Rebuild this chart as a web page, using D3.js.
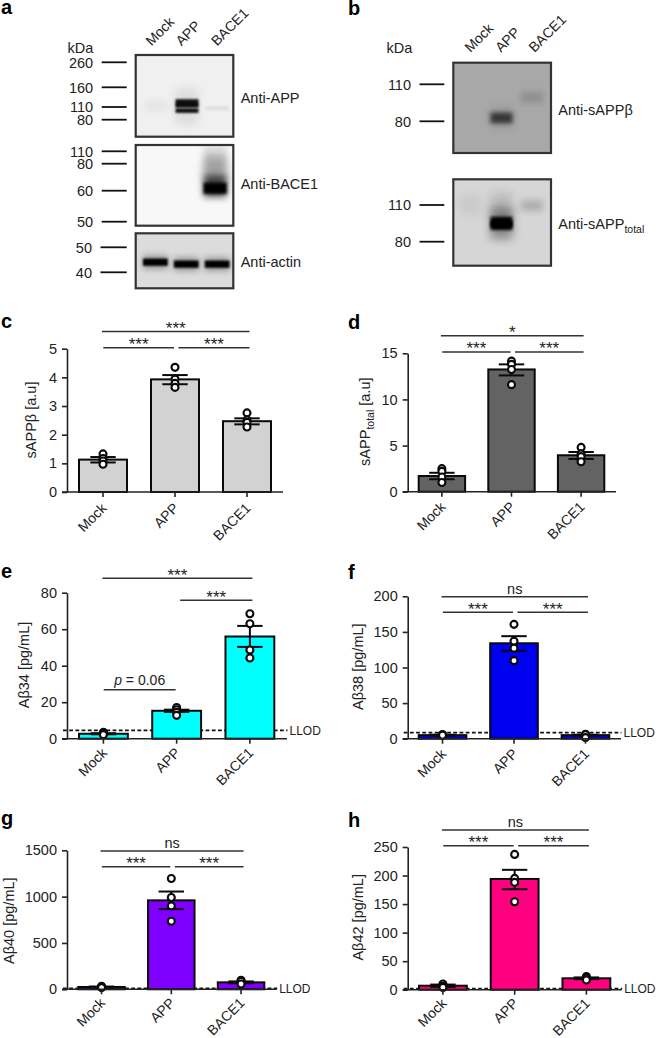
<!DOCTYPE html>
<html lang="en">
	<head>
		<meta charset="utf-8">
		<title>APP / BACE1 blots and bar charts</title>
		<script type="text/javascript" src="https://cdn.jsdelivr.net/npm/d3@7"></script>
		<style type="text/css">
			html, body { margin: 0; padding: 0; background: #fff; }
			svg { display: block; }
			text { font-family: "Liberation Sans", Arial, sans-serif; fill: #222; }
			.axis text { font-size: 14.5px; fill: #222; }
			.axis line, .axis path { stroke: #222; stroke-width: 1.6; }
		</style>
	</head>
	<body>
		<script type="text/javascript">

			var w = 657;
			var h = 1038;

			// values
			var lanes = ["Mock", "APP", "BACE1"];

			var sAPPbTicks = [0, 1, 2, 3, 4, 5];
			var sAPPbMeans = [1.13, 3.93, 2.47];
			var sAPPbHigh = [1.22, 4.08, 2.57];
			var sAPPbLow = [1.03, 3.76, 2.36];
			var sAPPbPoints = [[1.33, 1.17, 1.08, 0.97], [4.35, 3.94, 3.79, 3.65], [2.76, 2.51, 2.43, 2.27]];
			var sAPPbSig = [[0, 2, "***", 5.6], [0, 1, "***", 5.03], [1, 2, "***", 5.03]];

			var sAPPtTicks = [0, 5, 10, 15];
			var sAPPtMeans = [1.7, 13.25, 3.95];
			var sAPPtHigh = [2.05, 13.8, 4.3];
			var sAPPtLow = [1.35, 12.6, 3.55];
			var sAPPtPoints = [[2.5, 2.2, 1.6, 1.0], [14.15, 13.8, 13.25, 11.6], [4.8, 4.1, 3.8, 3.25]];
			var sAPPtSig = [[0, 2, "*", 16.9], [0, 1, "***", 15.15], [1, 2, "***", 15.15]];

			var ab34Ticks = [0, 20, 40, 60, 80];
			var ab34Means = [2.7, 15.3, 56];
			var ab34High = [3.0, 15.9, 61.8];
			var ab34Low = [2.4, 14.7, 50.3];
			var ab34Points = [[3.5, 3.0, 2.6, 2.2], [17.1, 15.9, 14.4, 12.8], [68.5, 63, 48.6, 44.2]];
			var ab34Sig = [[0, 2, "***", 87.9], [1, 2, "***", 75.9], [0, 1, "p", 26.8]];
			var ab34Llod = 4.6;

			var ab38Ticks = [0, 50, 100, 150, 200];
			var ab38Means = [5, 134, 5];
			var ab38High = [5.6, 144, 5.6];
			var ab38Low = [4.4, 123.5, 4.4];
			var ab38Points = [[5.8, 5.2, 4.8], [160.6, 137, 127, 109.6], [6.2, 5.5, 1.5]];
			var ab38Sig = [[0, 2, "ns", 199.5], [0, 1, "***", 177.5], [1, 2, "***", 177.5]];
			var ab38Llod = 8.4;

			var ab40Ticks = [0, 500, 1000, 1500];
			var ab40Means = [25, 960, 75];
			var ab40High = [30, 1055, 85];
			var ab40Low = [20, 865, 65];
			var ab40Points = [[32, 25, 18], [1195, 990, 900, 735], [97, 85, 58]];
			var ab40Sig = [[0, 2, "ns", 1493], [0, 1, "***", 1323], [1, 2, "***", 1323]];
			var ab40Llod = 11;

			var ab42Ticks = [0, 50, 100, 150, 200, 250];
			var ab42Means = [7, 194, 20];
			var ab42High = [9, 210, 21.5];
			var ab42Low = [5, 176, 18.5];
			var ab42Points = [[10, 6, 4], [237, 195, 188, 154], [23, 20, 17]];
			var ab42Sig = [[0, 2, "ns", 280], [0, 1, "***", 252], [1, 2, "***", 252]];
			var ab42Llod = 2;

			// blots: marker sizes, and bands as [lane, kDa top, kDa bottom, density]
			var appKda = [260, 160, 110, 80];
			var appBands = [
				[0, 128, 98, 0.04], [2, 112, 102, 0.07],
				[1, 158, 68, 0.08], [1, 130, 108.5, 0.9], [1, 107, 96, 0.92], [1, 122, 112, 0.5]
			];
			var baceKda = [110, 80, 60, 50];
			var baceBands = [
				[2, 123, 89, 0.13], [2, 100, 75, 0.2], [2, 84, 68, 0.25], [2, 72, 58, 0.7], [2, 66, 59, 1]
			];
			var actinKda = [50, 40];
			var actinBands = [
				[0, 46.8, 41.3, 0.3], [1, 46, 40.5, 0.3], [2, 46, 40.5, 0.3],
				[0, 45.5, 42.6, 1], [1, 44.7, 41.8, 1], [2, 44.7, 41.8, 1]
			];
			var sappbKda = [110, 80];
			var sappbBands = [[1, 90, 76, 0.15], [1, 87, 78.5, 0.62], [2, 104, 95, 0.15]];
			var sapptKda = [110, 80];
			var sapptBands = [
				[0, 118, 102, 0.05], [1, 120, 100, 0.12], [1, 108, 82, 0.35], [1, 100.5, 89.5, 1], [1, 97, 92, 1],
				[2, 114, 105, 0.18]
			];

			var svg = d3.select("body")
				.append("svg")
				.attr("width", w)
				.attr("height", h);

			var defs = svg.append("defs");
			var filterCount = 0;

			function blurFilter(sd) {
				var id = "blur" + (filterCount++);
				defs.append("filter")
					.attr("id", id)
					.attr("filterUnits", "userSpaceOnUse")
					.attr("x", 0).attr("y", 0)
					.attr("width", w).attr("height", h)
					.append("feGaussianBlur")
					.attr("stdDeviation", sd);
				return id;
			}

			function drawBlot(b) {
				var g = svg.append("g");
				var laneScale = d3.scaleBand().domain([0, 1, 2]).range(b.laneRange).paddingInner(b.lanePad);
				var kdaScale = d3.scaleLinear().domain(b.kda).range(b.kdaY);

				var clip = "clip" + (filterCount++);
				defs.append("clipPath").attr("id", clip).append("rect")
					.attr("x", b.x0).attr("y", b.y0)
					.attr("width", b.x1 - b.x0).attr("height", b.y1 - b.y0);

				var inner = g.append("g").attr("clip-path", "url(#" + clip + ")");
				inner.append("rect")
					.attr("x", b.x0).attr("y", b.y0)
					.attr("width", b.x1 - b.x0).attr("height", b.y1 - b.y0)
					.attr("fill", b.bg);

				inner.selectAll("rect.band")
					.data(b.bands)
					.enter()
					.append("rect")
					.attr("class", "band")
					.attr("x", function(d) { return laneScale(d[0]); })
					.attr("width", laneScale.bandwidth())
					.attr("y", function(d) { return kdaScale(d[1]); })
					.attr("height", function(d) { return kdaScale(d[2]) - kdaScale(d[1]); })
					.attr("fill", "#000")
					.attr("opacity", function(d) { return d[3]; })
					.attr("filter", function(d) {
						var hh = kdaScale(d[2]) - kdaScale(d[1]);
						var sd = Math.max(1, Math.min(5, hh * 0.3 * (1 - 0.6 * d[3])));
						return "url(#" + blurFilter(sd) + ")";
					});

				g.append("rect")
					.attr("x", b.x0).attr("y", b.y0)
					.attr("width", b.x1 - b.x0).attr("height", b.y1 - b.y0)
					.attr("fill", "none")
					.attr("stroke", "#333")
					.attr("stroke-width", 2.2);

				// size markers
				g.selectAll("line.marker")
					.data(b.kda)
					.enter()
					.append("line")
					.attr("x1", b.markX[0])
					.attr("x2", b.markX[1])
					.attr("y1", function(d) { return kdaScale(d); })
					.attr("y2", function(d) { return kdaScale(d); })
					.attr("stroke", "#111")
					.attr("stroke-width", 1.8);

				g.selectAll("text.kda")
					.data(b.kda)
					.enter()
					.append("text")
					.attr("x", b.markX[0] - 8.5)
					.attr("y", function(d) { return kdaScale(d); })
					.attr("dy", "0.36em")
					.attr("text-anchor", "end")
					.attr("font-size", "14.5px")
					.text(function(d) { return d; });

				var label = g.append("text")
					.attr("x", b.labelX)
					.attr("y", b.labelY)
					.attr("dy", "0.36em")
					.attr("font-size", "14.5px")
					.text(b.label);
				if (b.sub) {
					label.append("tspan").attr("dy", "4px").attr("font-size", "10.5px").text(b.sub);
				}
			}

			function laneLabels(xs, y) {
				svg.selectAll(null)
					.data(lanes)
					.enter()
					.append("text")
					.attr("transform", function(d, i) { return "translate(" + xs[i] + "," + y + ") rotate(-45)"; })
					.attr("font-size", "14px")
					.text(function(d) { return d; });
			}

			drawBlot({ x0: 135.7, x1: 233.3, y0: 55, y1: 136.7, bg: "#f0f0f0", kda: appKda, kdaY: [62.3, 87.3, 107, 119.7],
				bands: appBands, laneRange: [145, 229], lanePad: 0.25, markX: [101.7, 126.7],
				label: "Anti-APP", labelX: 240.7, labelY: 97.7 });
			drawBlot({ x0: 135.7, x1: 233.3, y0: 145, y1: 225.7, bg: "#f8f8f8", kda: baceKda, kdaY: [151.3, 163.7, 190.7, 221.7],
				bands: baceBands, laneRange: [142, 226.7], lanePad: 0.25, markX: [101.7, 126.7],
				label: "Anti-BACE1", labelX: 240.7, labelY: 184 });
			drawBlot({ x0: 135.7, x1: 233.3, y0: 233.3, y1: 288.3, bg: "#dcdcdc", kda: actinKda, kdaY: [247.3, 272.3],
				bands: actinBands, laneRange: [143, 229.5], lanePad: 0.2, markX: [100.5, 126.7],
				label: "Anti-actin", labelX: 240.7, labelY: 261.7 });
			drawBlot({ x0: 453.3, x1: 551, y0: 62.7, y1: 153, bg: "#a8a8a8", kda: sappbKda, kdaY: [84.3, 121.3],
				bands: sappbBands, laneRange: [460, 543], lanePad: 0.28, markX: [419.5, 444.3],
				label: "Anti-sAPPβ", labelX: 558.3, labelY: 110 });
			drawBlot({ x0: 453.3, x1: 551, y0: 179.3, y1: 265.7, bg: "#d6d6d6", kda: sapptKda, kdaY: [205, 241.7],
				bands: sapptBands, laneRange: [460, 543], lanePad: 0.28, markX: [419.5, 444.3],
				label: "Anti-sAPP", sub: "total", labelX: 558.3, labelY: 224 });

			laneLabels([151.5, 181.5, 217], 46.5);
			laneLabels([470.5, 501, 534.5], 53);
			svg.append("text").attr("x", 67.5).attr("y", 53).attr("font-size", "14.5px").text("kDa");
			svg.append("text").attr("x", 386.5).attr("y", 52.5).attr("font-size", "14.5px").text("kDa");

			function drawBars(p) {
				var g = svg.append("g");

				var xScale = d3.scaleBand()
					.domain(lanes)
					.range(p.barRange)
					.paddingInner(1 / 3);
				var yScale = d3.scaleLinear()
					.domain([0, p.ticks[p.ticks.length - 1]])
					.range([p.base, p.top]);

				var centers = lanes.map(function(d) { return xScale(d) + xScale.bandwidth() / 2; });

				// LLOD sits behind the bars
				if (p.llod !== undefined) {
					g.append("line")
						.attr("x1", p.axisX - 4)
						.attr("x2", p.axisEnd + 0.5)
						.attr("y1", yScale(p.llod))
						.attr("y2", yScale(p.llod))
						.attr("stroke", "#111")
						.attr("stroke-width", 1.8)
						.attr("stroke-dasharray", "3.8,2.4");
					g.append("text")
						.attr("x", p.axisEnd + 2.5)
						.attr("y", yScale(p.llod))
						.attr("dy", "0.36em")
						.attr("font-size", "12px")
						.text("LLOD");
				}

				g.selectAll("rect.bar")
					.data(p.means)
					.enter()
					.append("rect")
					.attr("class", "bar")
					.attr("x", function(d, i) { return xScale(lanes[i]); })
					.attr("width", xScale.bandwidth())
					.attr("y", function(d) { return yScale(d); })
					.attr("height", function(d) { return p.base - yScale(d); })
					.attr("fill", p.color)
					.attr("stroke", "#0a0a0a")
					.attr("stroke-width", 2);

				// error bars
				var err = g.selectAll("g.err")
					.data(p.means)
					.enter()
					.append("g")
					.attr("class", "err")
					.attr("stroke", "#0a0a0a")
					.attr("stroke-width", 2);
				err.append("line")
					.attr("x1", function(d, i) { return centers[i]; })
					.attr("x2", function(d, i) { return centers[i]; })
					.attr("y1", function(d, i) { return yScale(p.high[i]); })
					.attr("y2", function(d, i) { return yScale(p.low[i]); });
				err.append("line")
					.attr("x1", function(d, i) { return centers[i] - 12.7; })
					.attr("x2", function(d, i) { return centers[i] + 12.7; })
					.attr("y1", function(d, i) { return yScale(p.high[i]); })
					.attr("y2", function(d, i) { return yScale(p.high[i]); });
				err.append("line")
					.attr("x1", function(d, i) { return centers[i] - 12.7; })
					.attr("x2", function(d, i) { return centers[i] + 12.7; })
					.attr("y1", function(d, i) { return yScale(p.low[i]); })
					.attr("y2", function(d, i) { return yScale(p.low[i]); });

				// single measurements
				p.points.forEach(function(vals, i) {
					g.selectAll(null)
						.data(vals)
						.enter()
						.append("circle")
						.attr("cx", centers[i])
						.attr("cy", function(d) { return yScale(d); })
						.attr("r", 3.5)
						.attr("fill", "#fff")
						.attr("stroke", "#0a0a0a")
						.attr("stroke-width", 2.1);
				});

				var xAxis = d3.axisBottom().scale(xScale).tickSize(5).tickFormat("");
				var yAxis = d3.axisLeft().scale(yScale).tickValues(p.ticks).tickFormat(d3.format("d")).tickSize(5).tickSizeOuter(0).tickPadding(5);

				var gx = g.append("g")
					.attr("class", "axis")
					.attr("transform", "translate(0," + p.base + ")")
					.call(xAxis);
				gx.select(".domain").remove();
				gx.append("line").attr("x1", p.axisX - 5).attr("x2", p.axisEnd);

				g.append("g")
					.attr("class", "axis")
					.attr("transform", "translate(" + p.axisX + ",0)")
					.call(yAxis);

				g.selectAll("text.cat")
					.data(lanes)
					.enter()
					.append("text")
					.attr("class", "cat")
					.attr("text-anchor", "end")
					.attr("font-size", "14px")
					.attr("transform", function(d, i) {
						return "translate(" + (centers[i] + 4.5) + "," + (p.base + p.catDy) + ") rotate(-45)";
					})
					.text(function(d) { return d; });

				// axis title
				var title = g.append("text")
					.attr("transform", "translate(" + p.titleX + "," + p.titleY + ") rotate(-90)")
					.attr("text-anchor", "middle")
					.attr("dy", "0.36em")
					.attr("font-size", "14.5px")
					.text(p.title);
				if (p.titleSub) {
					title.append("tspan").attr("dy", "4px").attr("font-size", "10.5px").text(p.titleSub);
					title.append("tspan").attr("dy", "-4px").text(p.titleEnd);
				}

				// significance lines
				p.sig.forEach(function(s) {
					var full = s[0] === 0 && s[1] === 2;
					var x1 = centers[s[0]] + (s[0] === 1 ? 3.5 : (full ? -1 : 0.3));
					var x2 = centers[s[1]] + (s[1] === 1 ? -1 : 2.5);
					var y = yScale(s[3]);
					g.append("line")
						.attr("x1", x1).attr("x2", x2)
						.attr("y1", y).attr("y2", y)
						.attr("stroke", "#333")
						.attr("stroke-width", 1.5);
					var t = g.append("text")
						.attr("x", (x1 + x2) / 2)
						.attr("text-anchor", "middle");
					if (s[2] === "p") {
						t.attr("y", y - 4.3).attr("font-size", "14px");
						t.append("tspan").attr("font-style", "italic").text("p");
						t.append("tspan").text(" = 0.06");
					} else if (s[2] === "ns") {
						t.attr("y", y - 2.5).attr("font-size", "14.5px").text("ns");
					} else {
						t.attr("y", y + 2.5).attr("font-size", "17px").text(s[2]);
					}
				});
			}

			drawBars({ ticks: sAPPbTicks, means: sAPPbMeans, high: sAPPbHigh, low: sAPPbLow, points: sAPPbPoints, sig: sAPPbSig,
				color: "#d2d2d2", barRange: [79, 271], base: 492, top: 348.7, axisX: 67, axisEnd: 283, catDy: 17,
				title: "sAPPβ [a.u]", titleX: 31, titleY: 420 });
			drawBars({ ticks: sAPPtTicks, means: sAPPtMeans, high: sAPPtHigh, low: sAPPtLow, points: sAPPtPoints, sig: sAPPtSig,
				color: "#636363", barRange: [418.7, 604.3], base: 491.7, top: 353.3, axisX: 407.7, axisEnd: 616, catDy: 16,
				title: "sAPP", titleSub: "total", titleEnd: " [a.u]", titleX: 365, titleY: 421.7 });
			drawBars({ ticks: ab34Ticks, means: ab34Means, high: ab34High, low: ab34Low, points: ab34Points, sig: ab34Sig, llod: ab34Llod,
				color: "#00ffff", barRange: [79, 274.3], base: 738.7, top: 592.7, axisX: 67, axisEnd: 287, catDy: 15,
				title: "Aβ34 [pg/mL]", titleX: 23.3, titleY: 665 });
			drawBars({ ticks: ab38Ticks, means: ab38Means, high: ab38High, low: ab38Low, points: ab38Points, sig: ab38Sig, llod: ab38Llod,
				color: "#0000f0", barRange: [418.7, 609.3], base: 738.7, top: 596.3, axisX: 407.7, axisEnd: 621, catDy: 16,
				title: "Aβ38 [pg/mL]", titleX: 357.3, titleY: 666.7 });
			drawBars({ ticks: ab40Ticks, means: ab40Means, high: ab40High, low: ab40Low, points: ab40Points, sig: ab40Sig, llod: ab40Llod,
				color: "#7f00ff", barRange: [78.3, 264.3], base: 989.3, top: 850.3, axisX: 67, axisEnd: 276.7, catDy: 14.5,
				title: "Aβ40 [pg/mL]", titleX: 8.3, titleY: 920.7 });
			drawBars({ ticks: ab42Ticks, means: ab42Means, high: ab42High, low: ab42Low, points: ab42Points, sig: ab42Sig, llod: ab42Llod,
				color: "#ff0080", barRange: [419, 610.3], base: 989.7, top: 847, axisX: 407.7, axisEnd: 621.7, catDy: 14.5,
				title: "Aβ42 [pg/mL]", titleX: 357.3, titleY: 917.3 });

			// panel letters
			var letters = ["a", "b", "c", "d", "e", "f", "g", "h"];
			var letterX = [1, 348, 1, 348, 1, 348, 1, 348];
			var letterY = [14, 15, 328, 329, 578, 579, 825, 827];
			svg.selectAll("text.letter")
				.data(letters)
				.enter()
				.append("text")
				.attr("class", "letter")
				.attr("x", function(d, i) { return letterX[i]; })
				.attr("y", function(d, i) { return letterY[i]; })
				.attr("font-size", "20px")
				.attr("font-weight", "bold")
				.style("fill", "#000")
				.text(function(d) { return d; });

		</script>
	</body>
</html>
